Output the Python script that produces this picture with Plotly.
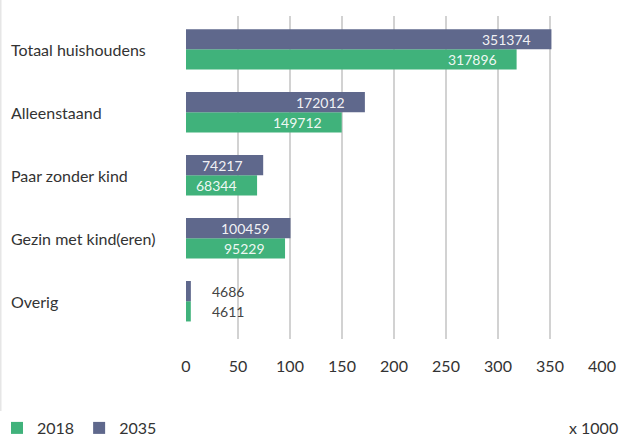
import plotly.graph_objects as go

# Household types (top to bottom) and counts
categories = ["Totaal huishoudens", "Alleenstaand", "Paar zonder kind",
              "Gezin met kind(eren)", "Overig"]
values_2018 = [317896, 149712, 68344, 95229, 4611]
values_2035 = [351374, 172012, 74217, 100459, 4686]
x_ticks = [0, 50, 100, 150, 200, 250, 300, 350, 400]

GREEN = "#40b27b"
PURPLE = "#5f688c"
FONT = "Lato"
TEXT = "#333333"

W, H = 622, 437
ML, MR, MT, MB = 186, 20, 16, 98
PW = W - ML - MR
PH = H - MT - MB

# plotted in thousands; bottom-to-top order for the category axis
cats_bt = categories[::-1]
v18 = [v / 1000 for v in values_2018[::-1]]
v35 = [v / 1000 for v in values_2035[::-1]]

fig = go.Figure()
fig.add_trace(go.Bar(y=cats_bt, x=v18, name="2018", orientation="h",
                     marker=dict(color=GREEN, line=dict(width=0))))
fig.add_trace(go.Bar(y=cats_bt, x=v35, name="2035", orientation="h",
                     marker=dict(color=PURPLE, line=dict(width=0))))

annotations = []
# value labels near the bar ends
for vals, raw, shift in ((v18, values_2018[::-1], -10), (v35, values_2035[::-1], 10)):
    for cat, v, r in zip(cats_bt, vals, raw):
        inside = v > 30
        annotations.append(dict(
            x=v, y=cat, xref="x", yref="y", text=str(r), showarrow=False,
            xanchor="right" if inside else "left",
            xshift=-18 if inside else 19, yshift=shift,
            font=dict(family=FONT, size=14, color="rgba(255,255,255,0.93)"
                      if inside else "#444444")))
# left-aligned category labels
for cat in categories:
    annotations.append(dict(
        x=-(ML - 9) / PW, y=cat, xref="paper", yref="y", text=cat,
        showarrow=False, xanchor="left",
        font=dict(family=FONT, size=16, color=TEXT)))
annotations.append(dict(
    x=1 + (MR - 2) / PW, y=-(MB - 10) / PH, xref="paper", yref="paper",
    text="x 1000", showarrow=False, xanchor="right", yanchor="middle",
    font=dict(family=FONT, size=16, color=TEXT)))

fig.update_layout(
    width=W, height=H,
    margin=dict(l=ML, r=MR, t=MT, b=MB, autoexpand=False),
    paper_bgcolor="white", plot_bgcolor="white",
    barmode="group", bargap=0.357, bargroupgap=0,
    font=dict(family=FONT, size=15, color=TEXT),
    showlegend=True,
    legend=dict(orientation="h", xref="paper", yref="paper",
                x=-(ML + 3) / PW, y=-(MB + 8) / PH, xanchor="left", yanchor="bottom",
                font=dict(family=FONT, size=16, color=TEXT),
                itemwidth=30, tracegroupgap=0, traceorder="normal"),
    annotations=annotations,
    shapes=[dict(type="line", xref="paper", yref="paper",
                 x0=-(ML - 0.5) / PW, x1=-(ML - 0.5) / PW, y0=-MB / PH,
                 y1=1 + MT / PH,
                 line=dict(color="#e6e6e6", width=2))],
)
fig.update_xaxes(range=[0, 400], tickvals=x_ticks, ticktext=[str(t) for t in x_ticks],
                 showgrid=True, gridcolor="#d2d2d2", gridwidth=1.5,
                 zeroline=False, showline=False, ticks="", automargin=False,
                 ticklabelstandoff=16, tickfont=dict(family=FONT, size=16, color=TEXT))
fig.update_yaxes(type="category", categoryorder="array", categoryarray=cats_bt,
                 range=[-0.6, 4.53], showticklabels=False, showgrid=False,
                 zeroline=False, showline=False, ticks="", automargin=False)

fig.write_html("out.html")
